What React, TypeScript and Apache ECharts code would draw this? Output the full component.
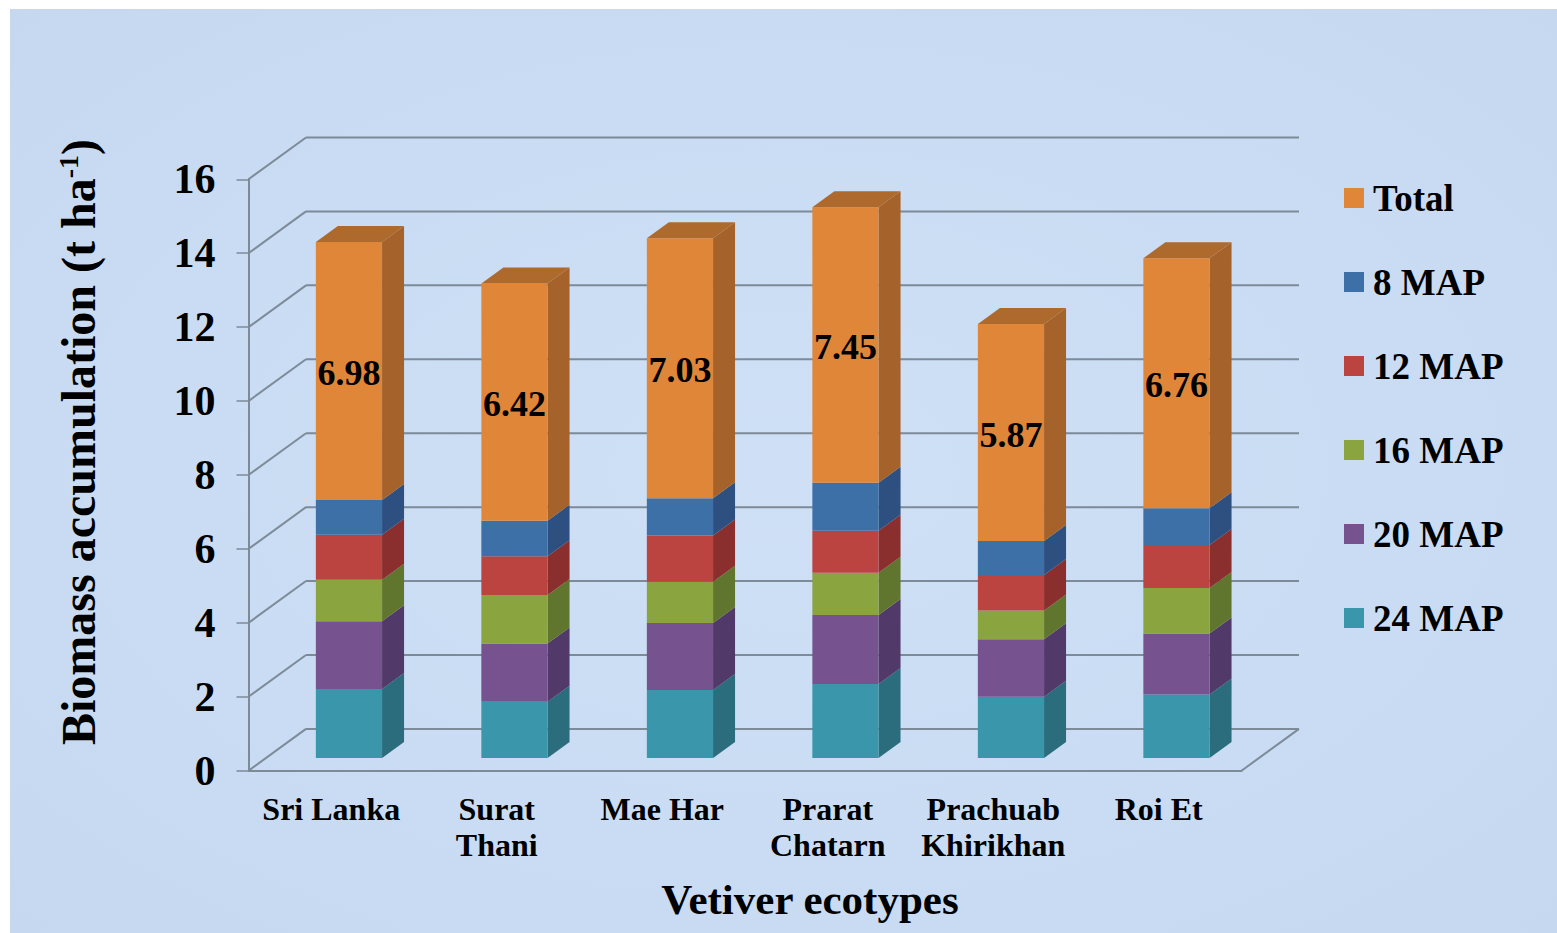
import React, { useEffect, useRef } from "react";
import * as echarts from "echarts";

const categories = ["Sri Lanka", "Surat\nThani", "Mae Har", "Prarat\nChatarn", "Prachuab\nKhirikhan", "Roi Et"];
const yTicks = [0, 2, 4, 6, 8, 10, 12, 14, 16];

// Stack order runs bottom to top.
const map24 = [1.87, 1.52, 1.84, 2.0, 1.66, 1.72];
const map20 = [1.83, 1.58, 1.81, 1.87, 1.55, 1.65];
const map16 = [1.12, 1.31, 1.12, 1.14, 0.78, 1.23];
const map12 = [1.22, 1.05, 1.25, 1.14, 0.96, 1.16];
const map8 = [0.94, 0.96, 1.01, 1.3, 0.92, 1.0];
const total = [6.98, 6.42, 7.03, 7.45, 5.87, 6.76];

const FONT = "'Liberation Serif', 'Times New Roman', serif";

const stackDefs = [
  { name: "24 MAP", values: map24, front: "#3a96aa", side: "#2b6c7d", top: "#2f7d90" },
  { name: "20 MAP", values: map20, front: "#76528f", side: "#513a69", top: "#604578" },
  { name: "16 MAP", values: map16, front: "#8aa43f", side: "#60762f", top: "#718a35" },
  { name: "12 MAP", values: map12, front: "#bb4340", side: "#8a2f2d", top: "#9c3735" },
  { name: "8 MAP", values: map8, front: "#3e70a8", side: "#2d5080", top: "#345d8e" },
  { name: "Total", values: total, front: "#e08639", side: "#a5622b", top: "#ae6a2c" },
];

// Oblique projection of the chart box and of each column.
const WALL_DX = 57.5;
const WALL_DY = 41.8;
const BAR_DX = 22;
const BAR_DY = 16;
const BAR_SHIFT_X = 17.7;
const BAR_SHIFT_Y = 12.7;
const BAR_WIDTH_RATIO = 0.4;
const WALL_COLOR = "#7d8a98";

const stackBase = (stackIndex: number, cat: number) => {
  let sum = 0;
  for (let i = 0; i < stackIndex; i++) sum += stackDefs[i].values[cat];
  return sum;
};

const wallSeries = {
  type: "custom",
  name: "walls",
  silent: true,
  z: 1,
  data: yTicks.map((v) => [0, v]),
  encode: { x: 0, y: 1 },
  renderItem: (params: any, api: any) => {
    const value = api.value(1);
    const sys = params.coordSys;
    const y = api.coord([0, value])[1];
    const lineStyle = { stroke: WALL_COLOR, lineWidth: 2, fill: "none" };
    const children: any[] = [
      {
        type: "line",
        shape: { x1: sys.x, y1: y, x2: sys.x + WALL_DX, y2: y - WALL_DY },
        style: lineStyle,
      },
      {
        type: "line",
        shape: {
          x1: sys.x + WALL_DX,
          y1: y - WALL_DY,
          x2: sys.x + sys.width + WALL_DX,
          y2: y - WALL_DY,
        },
        style: lineStyle,
      },
    ];
    if (value === 0) {
      children.push({
        type: "line",
        shape: { x1: sys.x + sys.width, y1: y, x2: sys.x + sys.width + WALL_DX, y2: y - WALL_DY },
        style: lineStyle,
      });
    }
    return { type: "group", children };
  },
};

const barSeries = stackDefs.map((def, stackIndex) => ({
  type: "custom",
  name: def.name,
  z: 2 + stackIndex,
  itemStyle: { color: def.front },
  data: def.values.map((v, i) => [i, v]),
  encode: { x: 0, y: 1 },
  renderItem: (_params: any, api: any) => {
    const cat = api.value(0);
    const value = api.value(1);
    const base = stackBase(stackIndex, cat);
    const band = api.size([1, 0])[0];
    const w = band * BAR_WIDTH_RATIO;
    const lowPt = api.coord([cat, base]);
    const highPt = api.coord([cat, base + value]);
    const x0 = lowPt[0] + BAR_SHIFT_X - w / 2;
    const x1 = x0 + w;
    const yLow = lowPt[1] - BAR_SHIFT_Y;
    const yHigh = highPt[1] - BAR_SHIFT_Y;
    const children: any[] = [
      {
        type: "polygon",
        shape: {
          points: [
            [x1, yHigh],
            [x1 + BAR_DX, yHigh - BAR_DY],
            [x1 + BAR_DX, yLow - BAR_DY],
            [x1, yLow],
          ],
        },
        style: { fill: def.side },
      },
      {
        type: "polygon",
        shape: {
          points: [
            [x0, yHigh],
            [x1, yHigh],
            [x1, yLow],
            [x0, yLow],
          ],
        },
        style: { fill: def.front },
      },
    ];
    if (def.name === "Total") {
      children.push({
        type: "polygon",
        shape: {
          points: [
            [x0, yHigh],
            [x0 + BAR_DX, yHigh - BAR_DY],
            [x1 + BAR_DX, yHigh - BAR_DY],
            [x1, yHigh],
          ],
        },
        style: { fill: def.top },
      });
      children.push({
        type: "text",
        style: {
          text: value.toFixed(2),
          x: (x0 + x1) / 2,
          y: (yHigh + yLow) / 2 + 2,
          align: "center",
          verticalAlign: "middle",
          fill: "#000",
          font: `bold 36px ${FONT}`,
        },
      });
    }
    return { type: "group", children };
  },
}));

export default function App() {
  const ref = useRef<HTMLDivElement>(null);

  useEffect(() => {
    const chart = echarts.init(ref.current!, undefined, { renderer: "svg" });
    chart.setOption({
      animation: false,
      textStyle: { fontFamily: FONT },
      grid: { left: 248.5, top: 179.3, width: 993, height: 591.4, containLabel: false },
      legend: {
        orient: "vertical",
        left: 1344,
        top: 178,
        padding: 0,
        itemWidth: 20,
        itemHeight: 20,
        itemGap: 44,
        selectedMode: false,
        icon: "rect",
        data: ["Total", "8 MAP", "12 MAP", "16 MAP", "20 MAP", "24 MAP"],
        textStyle: {
          fontFamily: FONT,
          fontWeight: "bold",
          fontSize: 37,
          lineHeight: 40,
          color: "#000",
          padding: [0, 0, 0, 4],
        },
      },
      xAxis: {
        type: "category",
        data: categories,
        name: "Vetiver ecotypes",
        nameLocation: "middle",
        nameGap: 107,
        nameTextStyle: {
          fontFamily: FONT,
          fontWeight: "bold",
          fontSize: 43,
          color: "#000",
          padding: [0, 0, 0, 130],
        },
        axisLine: { lineStyle: { color: WALL_COLOR, width: 2 } },
        axisTick: { length: 11, lineStyle: { color: WALL_COLOR, width: 1.5 } },
        axisLabel: {
          fontFamily: FONT,
          fontWeight: "bold",
          fontSize: 32,
          lineHeight: 36,
          color: "#000",
          margin: 20,
          interval: 0,
        },
      },
      yAxis: {
        type: "value",
        min: 0,
        max: 16,
        interval: 2,
        name: "{a|Biomass accumulation (t ha}{s|-1}{a|)}",
        nameLocation: "middle",
        nameGap: 146,
        nameTextStyle: {
          color: "#000",
          padding: [0, 0, 0, 66],
          rich: {
            a: { fontFamily: FONT, fontWeight: "bold", fontSize: 48, color: "#000" },
            s: {
              fontFamily: FONT,
              fontWeight: "bold",
              fontSize: 28,
              color: "#000",
              verticalAlign: "top",
            },
          },
        },
        splitLine: { show: false },
        axisLine: { show: true, lineStyle: { color: WALL_COLOR, width: 2 } },
        axisTick: { show: true, length: 12, lineStyle: { color: WALL_COLOR, width: 1.5 } },
        axisLabel: {
          fontFamily: FONT,
          fontWeight: "bold",
          fontSize: 42,
          color: "#000",
          margin: 33,
          padding: [9, 0, 0, 0],
        },
      },
      series: [wallSeries, ...barSeries],
    });
    return () => chart.dispose();
  }, []);

  return (
    <div style={{ position: "fixed", left: 0, top: 0, width: 1557, height: 933, background: "#fff", overflow: "hidden" }}>
      <div
        style={{
          position: "absolute",
          left: 10,
          top: 9,
          width: 1547,
          height: 924,
          background: "radial-gradient(ellipse at 50% 50%, #cfe0f6 0%, #c9dcf3 60%, #c5d8f0 100%)",
        }}
      />
      <div ref={ref} style={{ position: "absolute", left: 0, top: 0, width: 1557, height: 933 }} />
    </div>
  );
}
